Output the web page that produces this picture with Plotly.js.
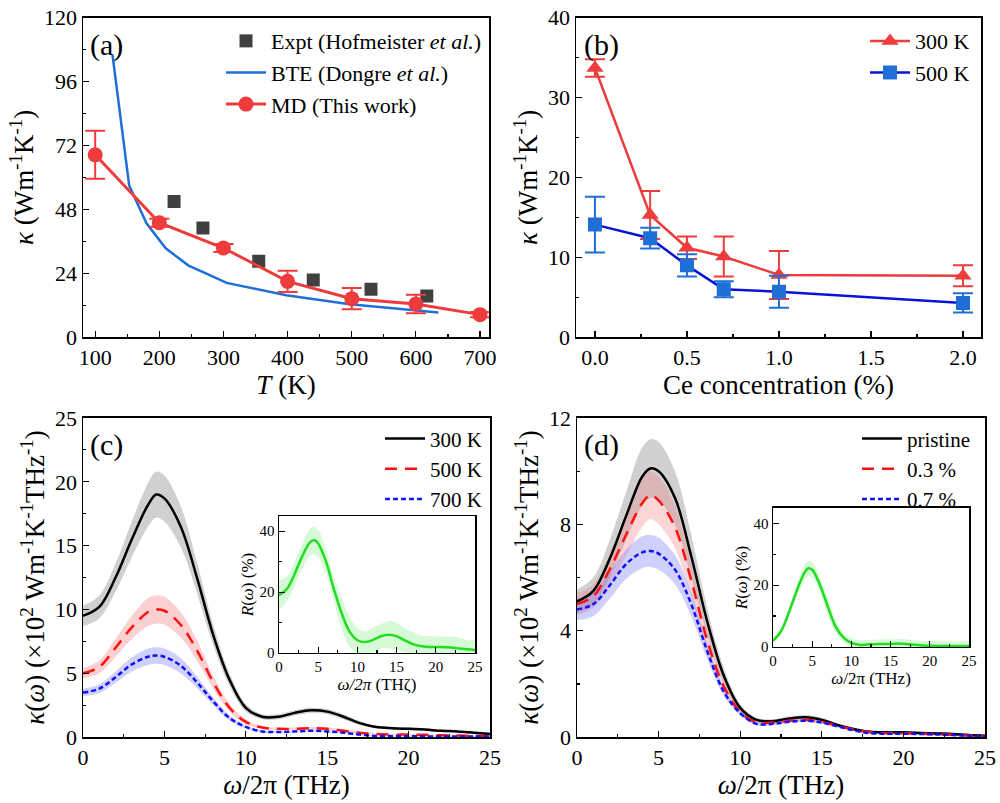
<!DOCTYPE html>
<html><head><meta charset="utf-8">
<script src="https://cdn.plot.ly/plotly-3.0.1.min.js"></script>
<style>body{margin:0;background:#fff}#g{width:1000px;height:803px}</style></head>
<body><div id="g"></div>
<script>
// (a)
const mdT=[100,200,300,400,500,600,700];
const mdK=[68.5,43,33.5,21,14.5,12.5,8.5];
const mdErr=[9,1.5,1.5,4,4,3.5,1];
const exT=[223,268,355,440,530,617];
const exK=[51,41,28.5,21.5,18,15.5];
const bteT=[127,153,180,210,245,305,398,497,635];
const bteK=[106,57,42.8,33.4,27,20.4,15.8,12.4,9.3];
// (b)
const ce=[0,0.3,0.5,0.7,1.0,2.0];
const k300=[33.7,15.3,11.2,10.1,7.8,7.7];
const e300=[1.1,3,1.4,2.5,3,1.3];
const k500=[14.1,12.4,9.0,6.0,5.7,4.3];
const e500=[3.5,1.3,1.4,1.0,2.0,1.2];
// spectra frequency grid
const f=[0,1,2,3,4,4.5,5,6,7,8,9,10,11,12,13,14,15,16,17,18,19,20,21,22,23,24,25];
// (c)
const c300=[9.5,10.2,12.5,15.5,18.2,19,18.7,16.5,12.5,8,4.5,2.3,1.6,1.6,1.9,2.1,2,1.6,1.1,0.8,0.7,0.65,0.6,0.5,0.45,0.35,0.25];
const c300w=[0.8,0.9,1.1,1.4,1.7,1.8,1.8,1.6,1.2,0.8,0.5,0.3,0.2,0.2,0.2,0.2,0.2,0.2,0.15,0.1,0.1,0.1,0.1,0.1,0.1,0.1,0.1];
const c500=[5,5.5,7,8.6,9.8,10,9.9,8.8,6.8,4.3,2.3,1.2,0.75,0.65,0.65,0.7,0.65,0.5,0.35,0.25,0.2,0.2,0.18,0.15,0.12,0.1,0.08];
const c500w=[0.4,0.5,0.7,0.9,1.1,1.1,1.1,1.0,0.8,0.5,0.3,0.2,0.1,0.1,0.1,0.1,0.1,0.1,0.08,0.06,0.05,0.05,0.05,0.05,0.05,0.05,0.05];
const c700=[3.5,3.8,4.7,5.7,6.3,6.4,6.3,5.6,4.3,2.8,1.5,0.8,0.45,0.4,0.45,0.5,0.45,0.35,0.2,0.1,0.08,0.07,0.06,0.05,0.05,0.05,0.05];
const c700w=[0.3,0.35,0.45,0.55,0.65,0.65,0.65,0.6,0.45,0.3,0.2,0.1,0.08,0.06,0.06,0.06,0.06,0.05,0.04,0.03,0.03,0.03,0.03,0.03,0.03,0.03,0.03];
const rc=[19,21,26,32,36.5,37,36,30,21,13,7,4.2,3.6,4.3,5.5,6,5.5,4.2,3,2.3,2,2,1.9,1.8,1.5,1.2,1];
const rcw=[5,4,4,4,4.5,4.5,4.5,4,4,5,5,4,3.5,4,4,4.5,4.5,4,4,3.5,3.5,3.5,3.5,3.5,3.5,3,3];
// (d)
const dP=[5.1,5.5,6.7,8.3,9.8,10.1,10,9,6.8,4.3,2.3,1.1,0.65,0.6,0.7,0.75,0.65,0.45,0.3,0.2,0.18,0.18,0.16,0.14,0.12,0.08,0.05];
const dPw=[0.45,0.5,0.7,0.9,1.1,1.1,1.1,1.0,0.8,0.5,0.3,0.15,0.08,0.08,0.08,0.08,0.08,0.06,0.05,0.04,0.04,0.04,0.04,0.04,0.04,0.03,0.03];
const d3=[5.0,5.3,6.3,7.6,8.8,9.1,8.9,7.9,5.9,3.6,1.9,0.95,0.55,0.55,0.62,0.65,0.58,0.42,0.28,0.18,0.15,0.15,0.13,0.11,0.09,0.06,0.04];
const d3w=[0.4,0.45,0.6,0.8,0.9,0.9,0.9,0.8,0.6,0.4,0.2,0.1,0.06,0.06,0.06,0.06,0.06,0.05,0.04,0.03,0.03,0.03,0.03,0.03,0.03,0.03,0.03];
const d7=[4.8,5.0,5.7,6.5,6.95,7,6.9,6.3,5.0,3.2,1.7,0.9,0.5,0.5,0.58,0.62,0.55,0.4,0.25,0.15,0.13,0.13,0.12,0.1,0.08,0.05,0.03];
const d7w=[0.4,0.45,0.5,0.55,0.6,0.6,0.6,0.55,0.45,0.3,0.15,0.08,0.05,0.05,0.05,0.05,0.05,0.04,0.03,0.03,0.03,0.03,0.03,0.03,0.03,0.03,0.03];
const rd=[2,5,11,18,24,25.5,25,20,13,6.5,3,1.3,0.7,0.8,0.9,1,1,1.1,1,0.7,0.5,0.4,0.35,0.3,0.3,0.3,0.3];
const rdw=[0.5,1,1.5,2,2.5,2.5,2.5,2.5,3,2,1.5,1.5,1.5,1.5,1.5,1.5,1.5,1.5,1.5,1.5,1.5,1.5,1.5,1.5,1.5,1.5,1.5];

const FONT='Times New Roman, Liberation Serif, DejaVu Serif, serif';
const traces=[];
function band(x,y,w,xa,ya,color){
  const up=y.map((v,i)=>v+w[i]), lo=y.map((v,i)=>Math.max(0,v-w[i]));
  traces.push({x:x.concat(x.slice().reverse()),y:up.concat(lo.slice().reverse()),fill:'toself',fillcolor:color,mode:'lines',hoverinfo:'skip',showlegend:false,xaxis:xa,yaxis:ya,line:{shape:'spline',width:0}});
}
traces.push({x:exT,y:exK,mode:'markers',marker:{symbol:'square',size:13,color:'#404040'},name:'Expt (Hofmeister <i>et al.</i>)',xaxis:'x',yaxis:'y',legend:'legend'});
traces.push({x:bteT,y:bteK,mode:'lines',line:{color:'#1f6fd6',width:2.5},name:'BTE (Dongre <i>et al.</i>)',xaxis:'x',yaxis:'y',legend:'legend'});
traces.push({x:mdT,y:mdK,mode:'lines+markers',line:{color:'#ee3b3b',width:3},marker:{size:15,color:'#ee3b3b'},error_y:{array:mdErr,color:'#ee3b3b',thickness:2,width:10},name:'MD (This work)',xaxis:'x',yaxis:'y',legend:'legend'});
traces.push({x:ce,y:k300,mode:'lines+markers',line:{color:'#ee3b3b',width:2.5},marker:{symbol:'triangle-up',size:15,color:'#ee3b3b'},error_y:{array:e300,color:'#ee3b3b',thickness:2,width:10},name:'300 K',xaxis:'x2',yaxis:'y2',legend:'legend2'});
traces.push({x:ce,y:k500,mode:'lines+markers',line:{color:'#0a14d8',width:2.5},marker:{symbol:'square',size:14,color:'#1f6fd6'},error_y:{array:e500,color:'#1f6fd6',thickness:2,width:10},name:'500 K',xaxis:'x2',yaxis:'y2',legend:'legend2'});
band(f,c300,c300w,'x3','y3','rgba(150,150,150,0.45)');
band(f,c500,c500w,'x3','y3','rgba(245,120,120,0.35)');
band(f,c700,c700w,'x3','y3','rgba(120,120,245,0.35)');
traces.push({x:f,y:c300,mode:'lines',line:{color:'#000',width:2.5,shape:'spline'},name:'300 K',xaxis:'x3',yaxis:'y3',legend:'legend3'});
traces.push({x:f,y:c500,mode:'lines',line:{color:'#ff1010',width:2.5,dash:'12px,8px',shape:'spline'},name:'500 K',xaxis:'x3',yaxis:'y3',legend:'legend3'});
traces.push({x:f,y:c700,mode:'lines',line:{color:'#1010ff',width:2.5,dash:'5px,3px',shape:'spline'},name:'700 K',xaxis:'x3',yaxis:'y3',legend:'legend3'});
band(f,rc,rcw,'x5','y5','rgba(120,240,120,0.3)');
traces.push({x:f,y:rc,mode:'lines',line:{color:'#22dd22',width:2.5,shape:'spline'},showlegend:false,xaxis:'x5',yaxis:'y5'});
band(f,dP,dPw,'x4','y4','rgba(150,150,150,0.45)');
band(f,d3,d3w,'x4','y4','rgba(245,120,120,0.3)');
band(f,d7,d7w,'x4','y4','rgba(120,120,245,0.35)');
traces.push({x:f,y:dP,mode:'lines',line:{color:'#000',width:2.5,shape:'spline'},name:'pristine',xaxis:'x4',yaxis:'y4',legend:'legend4'});
traces.push({x:f,y:d3,mode:'lines',line:{color:'#ff1010',width:2.5,dash:'12px,8px',shape:'spline'},name:'0.3 %',xaxis:'x4',yaxis:'y4',legend:'legend4'});
traces.push({x:f,y:d7,mode:'lines',line:{color:'#1010ff',width:2.5,dash:'5px,3px',shape:'spline'},name:'0.7 %',xaxis:'x4',yaxis:'y4',legend:'legend4'});
band(f,rd,rdw,'x6','y6','rgba(120,240,120,0.3)');
traces.push({x:f,y:rd,mode:'lines',line:{color:'#22dd22',width:2.5,shape:'spline'},showlegend:false,xaxis:'x6',yaxis:'y6'});

function ax(dom,range,dtick,tick0,title,anchor,fs,tfs,standoff,mdt){
  return {domain:dom,range:range,dtick:dtick,tick0:tick0,anchor:anchor,showline:true,linecolor:'#000',linewidth:1.5,mirror:true,
    ticks:'inside',ticklen:6,tickwidth:1.2,tickcolor:'#000',showgrid:false,zeroline:false,
    minor:{ticks:'inside',ticklen:3,tickcolor:'#000',dtick:mdt||dtick/2,showgrid:false},
    tickfont:{family:FONT,size:fs,color:'#000'},
    title:{text:title,font:{family:FONT,size:tfs,color:'#000'},standoff:standoff}};
}
const kt='<i>κ</i> (Wm<sup>-1</sup>K<sup>-1</sup>)';
const kw='<i>κ</i>(<i>ω</i>) (×10<sup>2</sup> Wm<sup>-1</sup>K<sup>-1</sup>THz<sup>-1</sup>)';
const wx='<i>ω</i>/2π (THz)';
const leg=(x,y,s)=>({x:x,y:y,xanchor:'right',yanchor:'top',bgcolor:'rgba(0,0,0,0)',font:{family:FONT,size:s,color:'#000'},tracegroupgap:0,itemwidth:40});
const layout={width:1000,height:803,margin:{l:0,r:0,t:0,b:0},paper_bgcolor:'#fff',plot_bgcolor:'rgba(0,0,0,0)',showlegend:true,
  font:{family:FONT,color:'#000',size:18},
  xaxis:ax([0.083,0.489],[81,714],100,100,'<i>T</i> (K)','y',22,27,0),
  yaxis:ax([0.58,0.978],[0,120],24,0,kt,'x',22,27,2),
  xaxis2:ax([0.576,0.981],[-0.103,2.098],0.5,0,'Ce concentration (%)','y2',22,27,0),
  yaxis2:ax([0.58,0.978],[0,40],10,0,kt,'x2',22,27,2),
  xaxis3:ax([0.083,0.49],[0,25],5,0,wx,'y3',22,27,0,2.5),
  yaxis3:ax([0.082,0.4795],[0,25],5,0,kw,'x3',22,27,2),
  xaxis4:ax([0.577,0.985],[0,25],5,0,wx,'y4',22,27,0,2.5),
  yaxis4:ax([0.082,0.4795],[0,12],4,0,kw,'x4',22,27,2),
  xaxis5:ax([0.279,0.475],[0,25],5,0,'<i>ω/2π</i> (THζ)','y5',15,17,1,2.5),
  yaxis5:ax([0.1868,0.3574],[0,45],20,0,'<i>R</i>(<i>ω</i>) (%)','x5',15,17,1,10),
  xaxis6:ax([0.773,0.969],[0,25],5,0,wx,'y6',15,17,1,2.5),
  yaxis6:ax([0.1943,0.3674],[0,45],20,0,'<i>R</i>(<i>ω</i>) (%)','x6',15,17,1,10),
  legend:leg(0.487,0.975,22),legend2:leg(0.975,0.975,22),legend3:leg(0.487,0.479,21),legend4:leg(0.975,0.479,21),
  annotations:[
    {text:'(a)',x:0.088,y:0.968,xref:'paper',yref:'paper',xanchor:'left',yanchor:'top',showarrow:false,font:{family:FONT,size:30,color:'#000'}},
    {text:'(b)',x:0.582,y:0.968,xref:'paper',yref:'paper',xanchor:'left',yanchor:'top',showarrow:false,font:{family:FONT,size:30,color:'#000'}},
    {text:'(c)',x:0.088,y:0.470,xref:'paper',yref:'paper',xanchor:'left',yanchor:'top',showarrow:false,font:{family:FONT,size:30,color:'#000'}},
    {text:'(d)',x:0.582,y:0.470,xref:'paper',yref:'paper',xanchor:'left',yanchor:'top',showarrow:false,font:{family:FONT,size:30,color:'#000'}}
  ]};
layout.xaxis2.tickformat='.1f';
Plotly.newPlot('g',traces,layout,{staticPlot:true});
</script></body></html>
